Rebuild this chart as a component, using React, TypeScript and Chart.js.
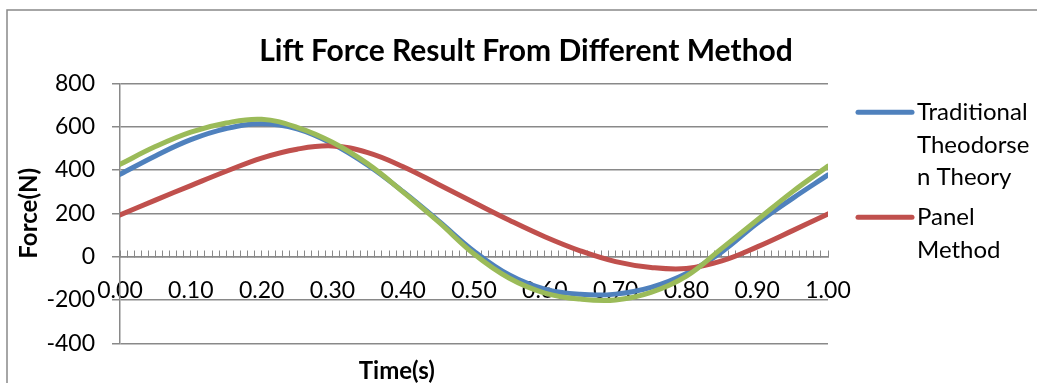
import { useEffect, useRef } from 'react';
import { Chart, registerables } from 'chart.js';

Chart.register(...registerables);

// ---- data ----
const times = [0, 0.05, 0.1, 0.15, 0.2, 0.25, 0.3, 0.35, 0.4, 0.45, 0.5, 0.55, 0.6, 0.65, 0.7, 0.75, 0.8, 0.85, 0.9, 0.95, 1.0];
const traditionalTheodorsen = [380, 465, 540, 591, 613, 590, 521, 422, 300, 165, 25, -85, -150, -174, -173, -142, -78, 22, 154, 269, 377];
const panelMethod = [192, 261, 328, 394, 455, 496, 511, 480, 415, 333, 250, 168, 92, 27, -23, -50, -55, -20, 45, 120, 197];
const thirdSeries = [426, 508, 575, 617, 634, 597, 528, 428, 298, 160, 12, -100, -168, -196, -200, -165, -90, 38, 169, 300, 418];

const seriesNames = ['Traditional Theodorsen Theory', 'Panel Method', ''];
const legendLines = [['Traditional', 'Theodorse', 'n Theory'], ['Panel', 'Method']];
const seriesColors = ['#4F81BD', '#C0504D', '#9BBB59'];

const yMin = -400;
const yMax = 800;
const yStep = 200;
const xLabelTicks = ['0.00', '0.10', '0.20', '0.30', '0.40', '0.50', '0.60', '0.70', '0.80', '0.90', '1.00'];

const chartTitle = 'Lift Force Result From Different Method';
const xTitle = 'Time(s)';
const yTitle = 'Force(N)';

const GRID = '#898989';
const FONT = 'Lato';

const decorPlugin = {
  id: 'decor',
  beforeDraw(chart: any) {
    const ctx = chart.ctx;
    ctx.save();
    ctx.strokeStyle = GRID;
    ctx.lineWidth = 1.5;
    ctx.strokeRect(7, 10, 3000, 3000);
    ctx.restore();
  },
  afterDraw(chart: any) {
    const { ctx, chartArea } = chart;
    ctx.save();
    // x axis title
    ctx.font = `bold 24px ${FONT}`;
    ctx.fillStyle = '#000';
    ctx.textAlign = 'center';
    ctx.textBaseline = 'middle';
    ctx.fillText(xTitle, chartArea.left + (chartArea.right - chartArea.left) * 0.391, chartArea.bottom + 28);
    // legend
    const lx1 = chartArea.right + 30;
    const lx2 = chartArea.right + 84;
    const tx = chartArea.right + 89;
    const lineH = 32.5;
    let y = chartArea.top + 29;
    ctx.font = `24px ${FONT}`;
    ctx.textAlign = 'left';
    legendLines.forEach((lines, i) => {
      ctx.strokeStyle = seriesColors[i];
      ctx.lineWidth = 5;
      ctx.lineCap = 'round';
      ctx.beginPath();
      ctx.moveTo(lx1, y);
      ctx.lineTo(lx2, y);
      ctx.stroke();
      lines.forEach((t, j) => {
        ctx.fillText(t, tx, y + j * lineH);
      });
      y += lines.length * lineH + 7.5;
    });
    ctx.restore();
  },
};

export default function App() {
  const ref = useRef<HTMLCanvasElement>(null);
  useEffect(() => {
    if (!ref.current) return;
    const mk = (vals: number[]) => vals.map((v, i) => ({ x: times[i], y: v }));
    const chart = new Chart(ref.current, {
      type: 'line',
      data: {
        datasets: [
          { label: seriesNames[0], data: mk(traditionalTheodorsen), borderColor: seriesColors[0], order: 3 },
          { label: seriesNames[1], data: mk(panelMethod), borderColor: seriesColors[1], order: 2 },
          { label: seriesNames[2], data: mk(thirdSeries), borderColor: seriesColors[2], order: 1 },
        ].map((d) => ({
          ...d,
          borderWidth: 5,
          pointRadius: 0,
          tension: 0.4,
          borderCapStyle: 'round' as const,
          borderJoinStyle: 'round' as const,
          fill: false,
        })),
      },
      options: {
        responsive: false,
        animation: false,
        events: [],
        layout: { padding: { left: 15, top: 0, right: 0, bottom: 39.7 } },
        plugins: {
          legend: { display: false },
          tooltip: { enabled: false },
          title: {
            display: true,
            text: chartTitle,
            color: '#000',
            font: { family: FONT, size: 30, weight: 'bold', lineHeight: 1.2 },
            padding: { top: 33, bottom: 14.3 },
          },
        },
        scales: {
          x: {
            type: 'linear',
            position: { y: 0 },
            min: 0,
            max: 1,
            grid: { display: true, drawOnChartArea: false, drawTicks: true, tickLength: -7, color: GRID, lineWidth: 1 },
            border: { display: true, color: GRID, width: 1.5 },
            ticks: {
              stepSize: 0.01,
              autoSkip: false,
              maxRotation: 0,
              minRotation: 0,
              padding: 27.5,
              color: '#000',
              font: { family: FONT, size: 23 },
              callback: (v: any) => {
                const k = Math.round(Number(v) * 100);
                return k % 10 === 0 ? xLabelTicks[k / 10] : '';
              },
            },
          },
          y: {
            min: yMin,
            max: yMax,
            afterFit: (s: any) => {
              s.width = 105;
            },
            grid: { color: GRID, lineWidth: 1.5, drawTicks: true, tickLength: 8 },
            border: { display: true, color: GRID, width: 1.5 },
            ticks: { stepSize: yStep, padding: 17, color: '#000', font: { family: FONT, size: 23 } },
            title: {
              display: true,
              text: yTitle,
              color: '#000',
              font: { family: FONT, size: 24, weight: 'bold', lineHeight: 1.2 },
              padding: { top: 0, bottom: 0 },
            },
          },
          yRight: {
            position: 'right',
            display: true,
            afterFit: (s: any) => {
              s.width = 209;
            },
            grid: { display: false },
            border: { display: false },
            ticks: { display: false },
          },
        },
      },
      plugins: [decorPlugin],
    } as any);
    return () => chart.destroy();
  }, []);
  return (
    <div style={{ position: 'fixed', left: 0, top: 0, width: 1037, height: 383, background: '#fff' }}>
      <canvas ref={ref} width={1037} height={383} />
    </div>
  );
}
